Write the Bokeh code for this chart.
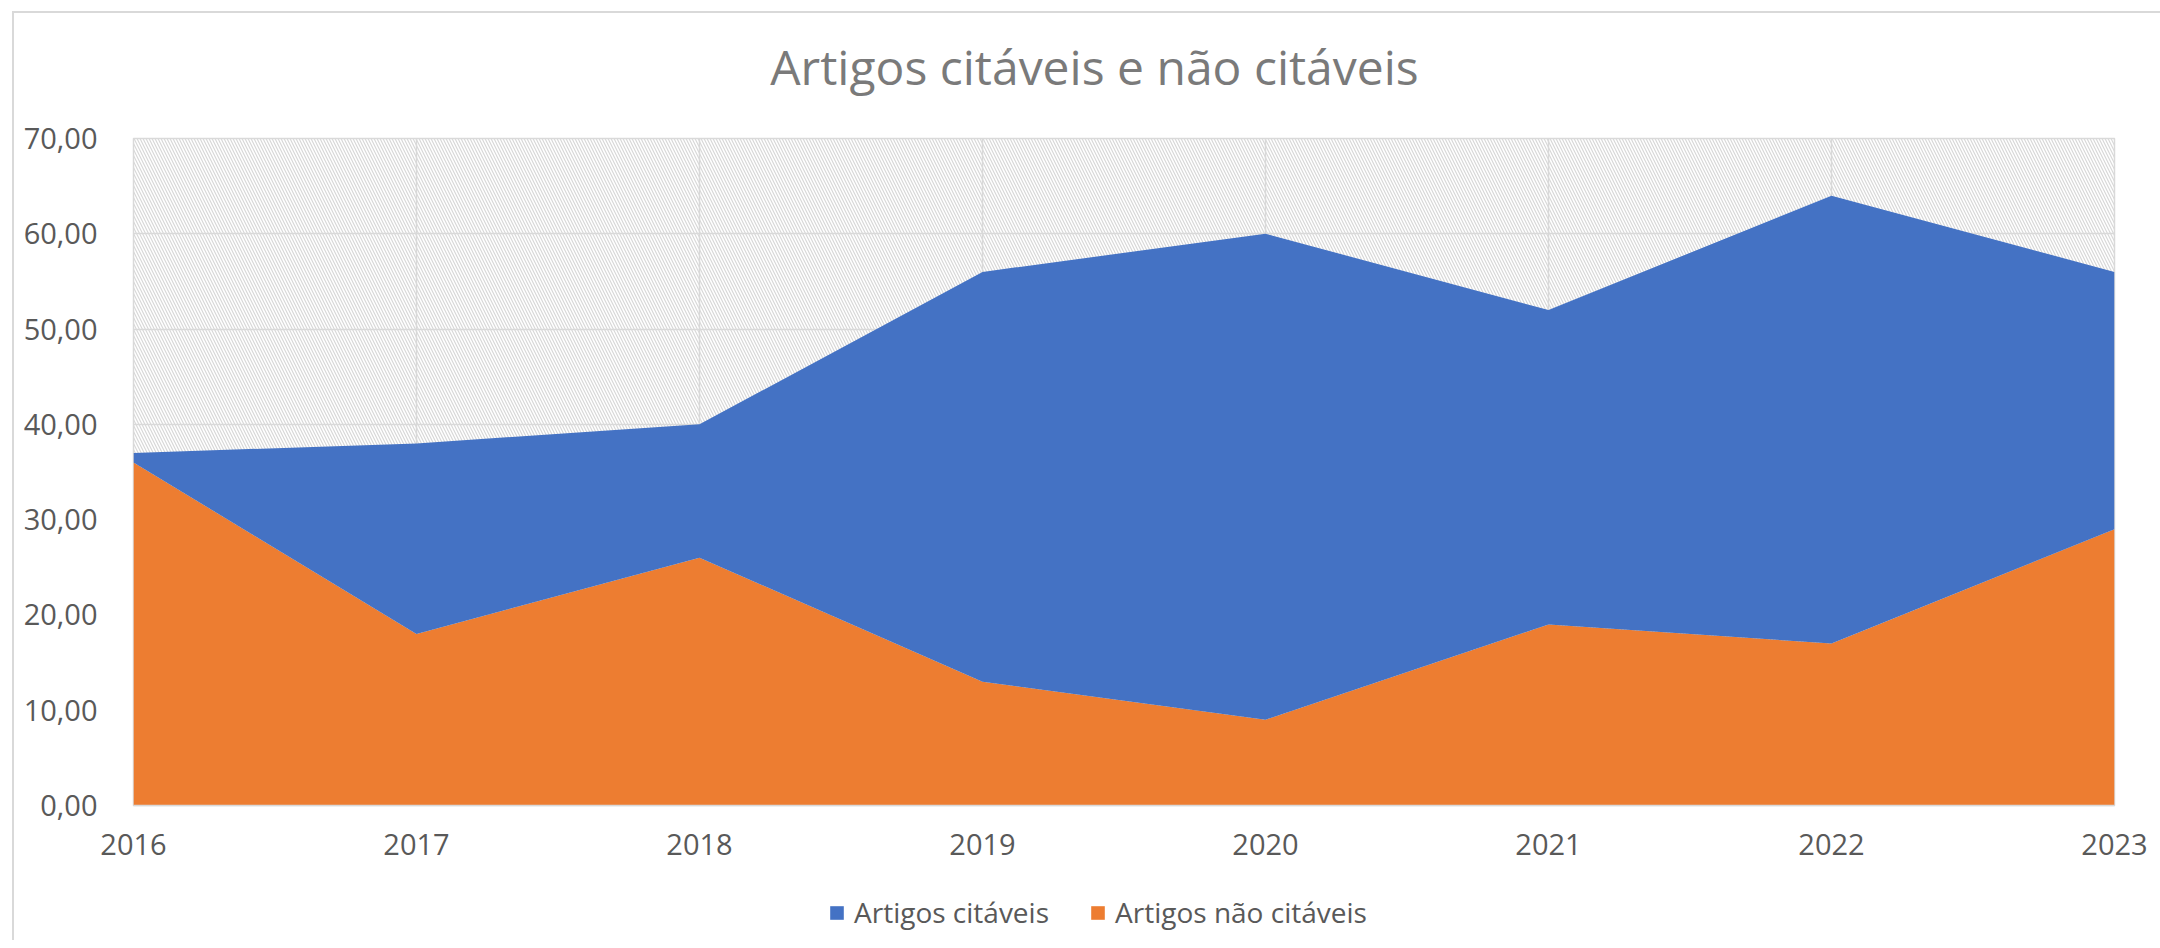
from bokeh.plotting import figure
from bokeh.layouts import column
from bokeh.models import (ColumnDataSource, Legend, LegendItem, FixedTicker,
                          BoxAnnotation, Range1d, Label)
from bokeh.embed import file_html
from bokeh.resources import INLINE

# ---- data ----
years = [2016, 2017, 2018, 2019, 2020, 2021, 2022, 2023]
nao_citaveis = [36, 18, 26, 13, 9, 19, 17, 29]
citaveis = [1, 20, 14, 43, 51, 33, 47, 27]
y_ticks = [0, 10, 20, 30, 40, 50, 60, 70]
y_tick_labels = ["0,00", "10,00", "20,00", "30,00", "40,00", "50,00", "60,00", "70,00"]
series_names = ["Artigos citáveis", "Artigos não citáveis"]
title_text = "Artigos citáveis e não citáveis"

BLUE = "#4472C4"
ORANGE = "#ED7D31"
TXT = "#595959"
GRID = "#d9d9d9"
FONT = "Open Sans"
W = 2146


def strip(height):
    f = figure(width=W, height=height, output_backend="svg", toolbar_location=None,
               x_range=Range1d(0, 1), y_range=Range1d(0, height),
               min_border_left=0, min_border_right=0, min_border_top=0, min_border_bottom=0)
    f.axis.visible = False
    f.grid.visible = False
    f.outline_line_color = None
    f.border_fill_color = "white"
    return f


source = ColumnDataSource(dict(year=years, nao=nao_citaveis, cit=citaveis))

# title strip
pt = strip(100)
pt.add_layout(Label(x=0.4851, y=47, text=title_text, text_align="center",
                    text_baseline="middle", text_font=FONT, text_font_size="48px",
                    text_color="#7a7a7a"))

# main chart
p = figure(width=W, height=767, output_backend="svg", toolbar_location=None,
           x_range=Range1d(years[0], years[-1]), y_range=Range1d(y_ticks[0], y_ticks[-1]),
           min_border_left=119, min_border_right=46, min_border_top=25, min_border_bottom=75)
p.background_fill_color = "white"
p.border_fill_color = "white"
p.outline_line_color = GRID
p.outline_line_width = 1.5

# hatched plot-area background
p.add_layout(BoxAnnotation(fill_alpha=0, line_alpha=0, hatch_pattern="\\",
                           hatch_color="#d8d8d8", hatch_scale=6, hatch_weight=1.2,
                           level="image"))

rs = p.varea_stack(["nao", "cit"], x="year", source=source, color=[ORANGE, BLUE])

# axes
p.xaxis.ticker = FixedTicker(ticks=years)
p.yaxis.ticker = FixedTicker(ticks=y_ticks)
p.yaxis.major_label_overrides = {t: l for t, l in zip(y_ticks, y_tick_labels)}
for ax in (p.xaxis[0], p.yaxis[0]):
    ax.major_tick_line_color = None
    ax.minor_tick_line_color = None
    ax.major_label_text_font = FONT
    ax.major_label_text_font_size = "29px"
    ax.major_label_text_color = TXT
p.yaxis.axis_line_color = None
p.xaxis.axis_line_color = GRID
p.xaxis.axis_line_width = 1.5
p.yaxis.major_label_standoff = 30
p.xaxis.major_label_standoff = 22

p.xgrid.ticker = FixedTicker(ticks=years)
p.ygrid.ticker = FixedTicker(ticks=y_ticks)
p.grid.grid_line_color = GRID
p.grid.grid_line_width = 1.5

# legend strip (same series, areas kept out of view)
pl = strip(60)
pl.y_range = Range1d(-2, -1)
rl = pl.varea_stack(["nao", "cit"], x="year", source=source, color=[ORANGE, BLUE])
legend = Legend(items=[LegendItem(label=series_names[0], renderers=[rl[1]]),
                       LegendItem(label=series_names[1], renderers=[rl[0]])],
                orientation="horizontal", location=(695, 9),
                glyph_width=17, glyph_height=17, label_standoff=9, spacing=40,
                padding=0, margin=0, border_line_color=None, background_fill_alpha=0,
                label_text_font=FONT, label_text_font_size="28px", label_text_color=TXT)
pl.add_layout(legend, "center")

layout = column(pt, p, pl, spacing=0, margin=(11, 0, 0, 12),
                styles={"border-top": "2px solid #d9d9d9", "border-left": "2px solid #d9d9d9"})
open("out.html", "w").write(file_html(layout, INLINE))
